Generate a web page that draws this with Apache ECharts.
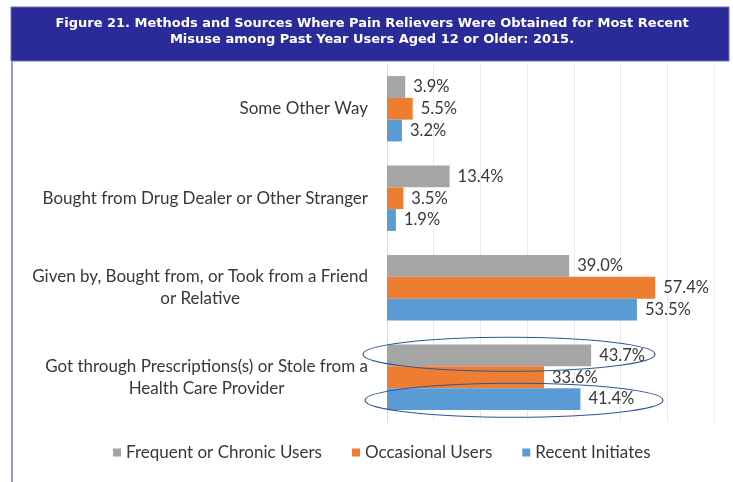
<!DOCTYPE html>
<html>
<head>
<meta charset="utf-8">
<script src="https://cdn.jsdelivr.net/npm/echarts@6/dist/echarts.min.js"></script>
<style>
  html, body { margin: 0; padding: 0; background: #ffffff; }
  #chart { width: 733px; height: 482px; }
</style>
</head>
<body>
<div id="chart"></div>
<script>
// Categories, top to bottom
const categories = [
  'Some Other Way',
  'Bought from Drug Dealer or Other Stranger',
  'Given by, Bought from, or Took from a Friend\nor Relative',
  'Got through Prescriptions(s) or Stole from a\nHealth Care Provider'
];

const seriesNames = ['Frequent or Chronic Users', 'Occasional Users', 'Recent Initiates'];

// Percent of past year misusers, by source
const frequentUsers   = [3.9, 13.4, 39.0, 43.7];
const occasionalUsers = [5.5, 3.5, 57.4, 33.6];
const recentInitiates = [3.2, 1.9, 53.5, 41.4];

const titleLines = [
  'Figure 21. Methods and Sources Where Pain Relievers Were Obtained for Most Recent',
  'Misuse among Past Year Users Aged 12 or Older: 2015.'
];

const colors = ['#a5a5a5', '#ed7d31', '#5b9bd5'];
const textColor = '#383838';
const bodyFont = 'Lato';
const bodyWeight = 'normal';
const bodySize = 17;

const chart = echarts.init(document.getElementById('chart'), null, { renderer: 'canvas' });

function barSeries(name, data, color) {
  return {
    name: name,
    type: 'bar',
    data: data,
    barGap: '0%',
    barCategoryGap: '27%',
    itemStyle: { color: color },
    label: {
      show: true,
      position: 'right',
      distance: 8,
      color: textColor,
      fontFamily: bodyFont,
      fontWeight: bodyWeight,
      fontSize: 16.5,
      formatter: p => p.value.toFixed(1) + '%'
    }
  };
}

chart.setOption({
  backgroundColor: '#ffffff',
  animation: false,
  title: {
    text: titleLines.join('\n'),
    left: 372,
    top: 16,
    padding: 0,
    textAlign: 'center',
    z: 20,
    textStyle: {
      color: '#ffffff',
      fontFamily: 'DejaVu Sans',
      fontWeight: 'bold',
      fontSize: 13,
      lineHeight: 16
    }
  },
  legend: {
    data: seriesNames,
    bottom: 16,
    left: 108,
    icon: 'rect',
    itemWidth: 8,
    itemHeight: 8,
    itemGap: 30,
    textStyle: { color: textColor, fontFamily: bodyFont, fontWeight: bodyWeight, fontSize: bodySize }
  },
  grid: { left: 387, right: 19, top: 64, bottom: 60, containLabel: false },
  xAxis: {
    type: 'value',
    min: 0,
    max: 70,
    interval: 10,
    axisLabel: { show: false },
    axisLine: { show: false },
    axisTick: { show: false },
    splitLine: { show: true, lineStyle: { color: '#ebebeb', width: 1 } }
  },
  yAxis: {
    type: 'category',
    inverse: true,
    data: categories,
    axisLine: { show: true, lineStyle: { color: '#dedede' } },
    axisTick: { show: false },
    axisLabel: {
      margin: 19,
      color: textColor,
      fontFamily: bodyFont,
      fontWeight: bodyWeight,
      fontSize: bodySize,
      lineHeight: 22,
      formatter: v => v.split('\n').map(s => '{c|' + s + '}').join('\n'),
      rich: { c: { align: 'center', color: textColor, fontFamily: bodyFont, fontWeight: bodyWeight, fontSize: bodySize, lineHeight: 22 } }
    }
  },
  series: [
    barSeries(seriesNames[0], frequentUsers, colors[0]),
    barSeries(seriesNames[1], occasionalUsers, colors[1]),
    barSeries(seriesNames[2], recentInitiates, colors[2])
  ]
});

// Header band, frame line and highlight rings around the prescription row
const x0 = chart.convertToPixel({ xAxisIndex: 0 }, 0);
const yc = chart.convertToPixel({ yAxisIndex: 0 }, categories[3]);
chart.setOption({
  graphic: [
    { id: 'band', type: 'rect', z: 0, shape: { x: 11, y: 7, width: 718, height: 54 },
      style: { fill: '#2a2b99', stroke: '#6d70b8', lineWidth: 1 } },
    { id: 'frame', type: 'rect', z: 0, shape: { x: 11, y: 61, width: 2, height: 421 },
      style: { fill: '#9a9cbf' } },
    { id: 'ringTop', type: 'ellipse', z: 10, shape: { cx: (x0 - 24 + x0 + 268) / 2, cy: yc - 23, rx: 146, ry: 17 },
      style: { fill: 'none', stroke: '#2f5597', lineWidth: 1.2 } },
    { id: 'ringBottom', type: 'ellipse', z: 10, shape: { cx: (x0 - 22 + x0 + 276) / 2, cy: yc + 23, rx: 149, ry: 17 },
      style: { fill: 'none', stroke: '#2f5597', lineWidth: 1.2 } }
  ]
});
</script>
</body>
</html>
